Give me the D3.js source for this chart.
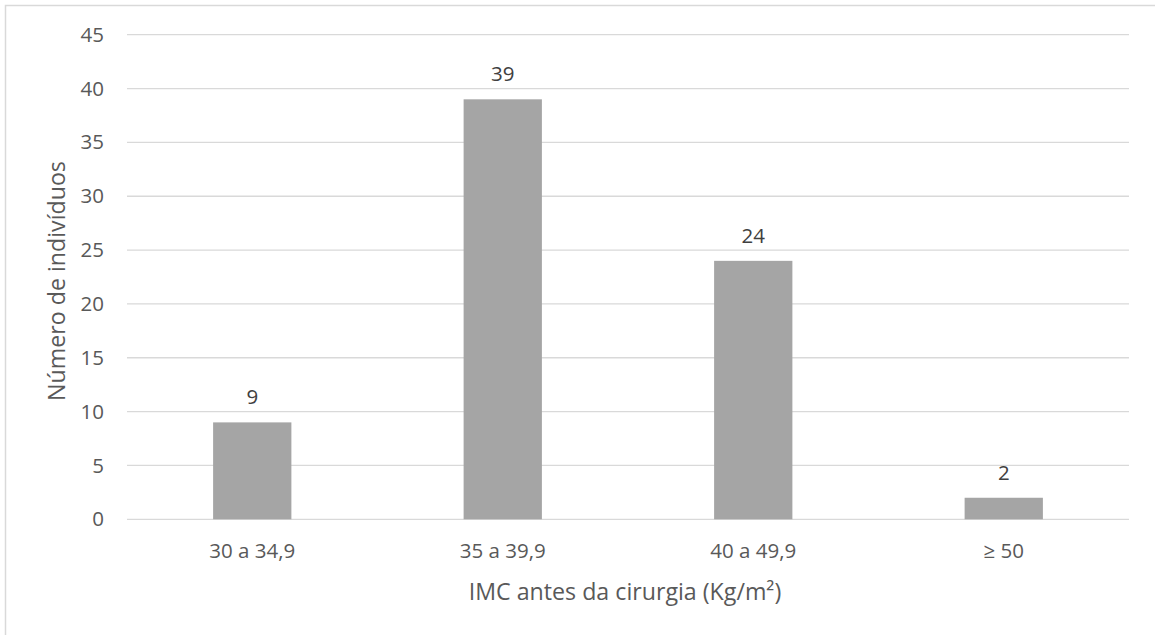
<!DOCTYPE html>
<html>
<head>
<meta charset="utf-8">
<script src="https://cdn.jsdelivr.net/npm/d3@7"></script>
<style>
  html, body { margin: 0; padding: 0; background: #fff; }
  svg { display: block; font-family: "Open Sans", "Noto Sans", sans-serif; }
</style>
</head>
<body>
<svg id="chart" width="1155" height="635"></svg>
<script>
// BMI categories before surgery and number of individuals in each
const categories = ["30 a 34,9", "35 a 39,9", "40 a 49,9", "≥ 50"];
const counts = [9, 39, 24, 2];
const yTicks = [0, 5, 10, 15, 20, 25, 30, 35, 40, 45];
const xTitle = "IMC antes da cirurgia (Kg/m²)";
const yTitle = "Número de indivíduos";

const svg = d3.select("#chart");
const W = 1155, H = 635;
const plot = { left: 127, right: 1129, top: 34.7, bottom: 519.3 };
const tickFont = "20.5px";
const titleFont = "23.2px";

// chart frame
svg.append("rect")
  .attr("x", 5.5).attr("y", 5.5)
  .attr("width", W).attr("height", H)
  .attr("fill", "#fff")
  .attr("stroke", "#d9d9d9").attr("stroke-width", 1.5);

const x = d3.scaleBand()
  .domain(categories)
  .range([plot.left, plot.right])
  .paddingInner(0.6875)
  .paddingOuter(0.34375);

const y = d3.scaleLinear()
  .domain([0, 45])
  .range([plot.bottom, plot.top]);

// horizontal gridlines
svg.append("g")
  .selectAll("line")
  .data(yTicks)
  .join("line")
  .attr("x1", plot.left).attr("x2", plot.right)
  .attr("y1", d => y(d)).attr("y2", d => y(d))
  .attr("stroke", "#d9d9d9").attr("stroke-width", 1.3);

// y axis tick labels
const yAxis = d3.axisLeft(y).tickValues(yTicks).tickSize(0).tickPadding(0);
svg.append("g")
  .attr("transform", `translate(${plot.left - 23},0)`)
  .call(yAxis)
  .call(g => g.select(".domain").remove())
  .call(g => g.selectAll("text")
    .attr("fill", "#595959")
    .style("font-size", tickFont)
    .style("font-family", "'Open Sans', sans-serif"));

// bars
svg.append("g")
  .selectAll("rect")
  .data(counts)
  .join("rect")
  .attr("x", (d, i) => x(categories[i]))
  .attr("width", x.bandwidth())
  .attr("y", d => y(d))
  .attr("height", d => y(0) - y(d))
  .attr("fill", "#a5a5a5");

// value labels above the bars
svg.append("g")
  .selectAll("text")
  .data(counts)
  .join("text")
  .attr("x", (d, i) => x(categories[i]) + x.bandwidth() / 2)
  .attr("y", d => y(d) - 18)
  .attr("text-anchor", "middle")
  .attr("fill", "#404040")
  .style("font-size", tickFont)
  .text(d => d);

// x axis category labels
const xAxis = d3.axisBottom(x).tickSize(0).tickPadding(0);
svg.append("g")
  .attr("transform", `translate(0,${plot.bottom})`)
  .call(xAxis)
  .call(g => g.select(".domain").remove())
  .call(g => g.selectAll("text")
    .attr("dy", null)
    .attr("y", 38.5)
    .attr("fill", "#595959")
    .style("font-size", tickFont)
    .style("font-family", "'Open Sans', sans-serif"));

// axis titles
svg.append("text")
  .attr("x", 625)
  .attr("y", 600)
  .attr("text-anchor", "middle")
  .attr("fill", "#595959")
  .style("font-size", titleFont)
  .text(xTitle);

svg.append("text")
  .attr("transform", `translate(65,281) rotate(-90)`)
  .attr("text-anchor", "middle")
  .attr("fill", "#595959")
  .style("font-size", titleFont)
  .text(yTitle);
</script>
</body>
</html>
